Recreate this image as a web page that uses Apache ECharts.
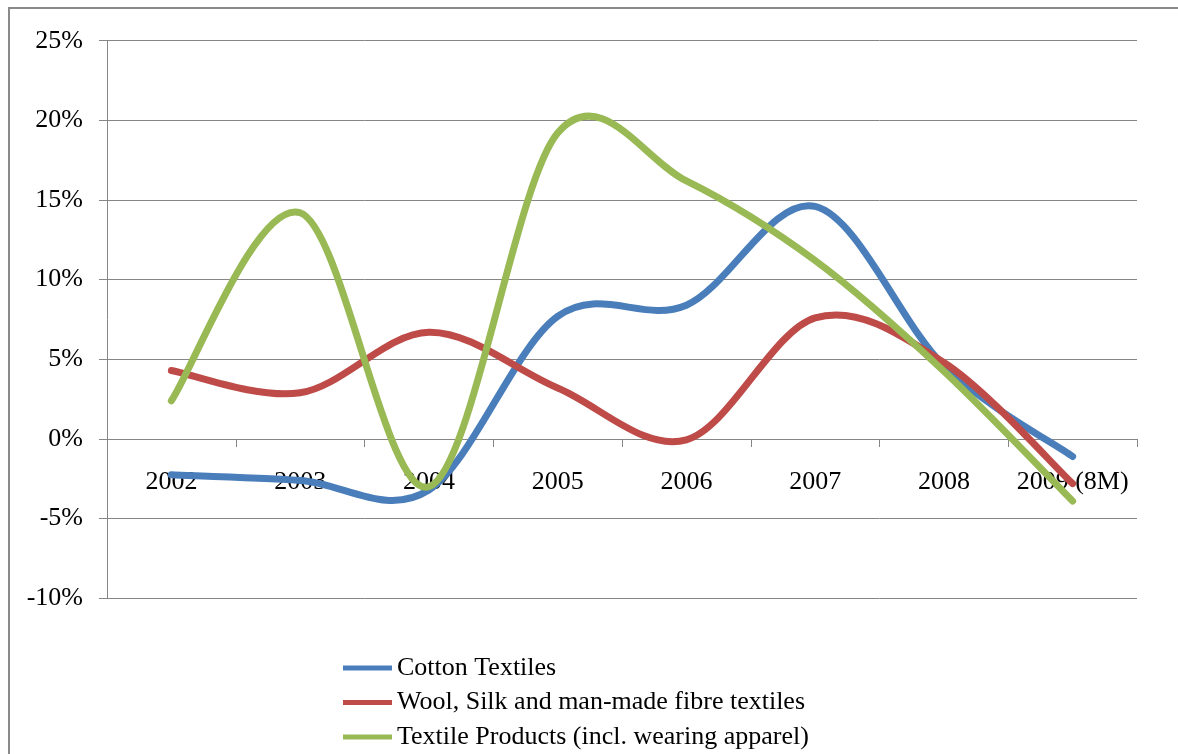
<!DOCTYPE html>
<html>
<head>
<meta charset="utf-8">
<title>Textile export growth</title>
<script src="https://cdn.jsdelivr.net/npm/echarts@6/dist/echarts.min.js"></script>
<style>
  html, body { margin: 0; padding: 0; background: #fff; }
  #chart { width: 1178px; height: 754px; }
</style>
</head>
<body>
<div id="chart"></div>
<script>
// Year categories on the horizontal axis
const years = ['2002', '2003', '2004', '2005', '2006', '2007', '2008', '2009 (8M)'];

// Annual growth rates, in percent
const cottonTextiles = [-2.25, -2.6, -3.2, 7.7, 8.4, 14.6, 4.6, -1.1];
const woolSilkManMade = [4.3, 2.9, 6.7, 3.2, -0.05, 7.6, 4.8, -2.8];
const textileProducts = [2.4, 14.2, -3.0, 19.2, 16.2, 11.2, 4.25, -3.9];

// Value axis ticks
const yTicks = { min: -10, max: 25, step: 5 };

const seriesNames = [
  'Cotton Textiles',
  'Wool, Silk and man-made fibre textiles',
  'Textile Products (incl. wearing apparel)'
];
const seriesColors = ['#4A7EBB', '#BE4B48', '#98B954'];
const seriesValues = [cottonTextiles, woolSilkManMade, textileProducts];

const FONT = '"Liberation Serif", "Times New Roman", serif';

// Plot area edges (px)
const GRID = { left: 107, right: 41, top: 40.7, bottom: 155.7 };

// Smooth curve through every point (Catmull-Rom style cubic Bezier segments)
function smoothPath(pts) {
  let d = 'M' + pts[0][0] + ' ' + pts[0][1];
  const n = pts.length;
  for (let i = 0; i < n - 1; i++) {
    const p0 = pts[Math.max(i - 1, 0)];
    const p1 = pts[i];
    const p2 = pts[i + 1];
    const p3 = pts[Math.min(i + 2, n - 1)];
    const c1x = p1[0] + (p2[0] - p0[0]) / 6;
    const c1y = p1[1] + (p2[1] - p0[1]) / 6;
    const c2x = p2[0] - (p3[0] - p1[0]) / 6;
    const c2y = p2[1] - (p3[1] - p1[1]) / 6;
    d += ' C' + c1x + ' ' + c1y + ' ' + c2x + ' ' + c2y + ' ' + p2[0] + ' ' + p2[1];
  }
  return d;
}

function makeSeries(name, values, color) {
  return {
    name: name,
    type: 'custom',
    coordinateSystem: 'cartesian2d',
    itemStyle: { color: color },
    encode: { x: 0, y: 1 },
    data: values.map((v, i) => [i, v]),
    renderItem: function (params, api) {
      if (params.dataIndex !== 0) return null;
      const pts = values.map((v, i) => api.coord([i, v]));
      return {
        type: 'path',
        shape: { pathData: smoothPath(pts) },
        style: {
          fill: null,
          stroke: color,
          lineWidth: 7,
          lineCap: 'round',
          lineJoin: 'round'
        },
        silent: true
      };
    }
  };
}

const chart = echarts.init(document.getElementById('chart'), null, { renderer: 'canvas' });

// The category axis sits on the 0% line: shift it up from the plot bottom
const plotHeight = 754 - GRID.top - GRID.bottom;
const zeroShift = plotHeight * (0 - yTicks.min) / (yTicks.max - yTicks.min);

chart.setOption({
  animation: false,
  backgroundColor: '#ffffff',
  graphic: [{
    type: 'rect',
    shape: { x: 9, y: 8, width: 1220, height: 800 },
    style: { fill: null, stroke: '#8a8a8a', lineWidth: 2 },
    silent: true,
    z: -1
  }],
  grid: { left: GRID.left, right: GRID.right, top: GRID.top, bottom: GRID.bottom, containLabel: false },
  legend: {
    orient: 'vertical',
    left: 343,
    top: 655,
    padding: 0,
    itemWidth: 49,
    itemHeight: 5,
    itemGap: 8.5,
    icon: 'rect',
    data: seriesNames,
    textStyle: { fontFamily: FONT, fontSize: 26, color: '#000', lineHeight: 26 }
  },
  xAxis: {
    type: 'category',
    data: years,
    boundaryGap: true,
    position: 'bottom',
    offset: -zeroShift,
    axisLine: { onZero: false, lineStyle: { color: '#868686', width: 1 } },
    axisTick: { show: true, length: 8, lineStyle: { color: '#868686' } },
    axisLabel: { margin: 30, fontFamily: FONT, fontSize: 26, color: '#000', interval: 0 },
    splitLine: { show: false }
  },
  yAxis: {
    type: 'value',
    min: yTicks.min,
    max: yTicks.max,
    interval: yTicks.step,
    axisLine: { show: true, lineStyle: { color: '#868686', width: 1 } },
    axisTick: { show: true, length: 8, lineStyle: { color: '#868686' } },
    axisLabel: { margin: 24, formatter: '{value}%', fontFamily: FONT, fontSize: 26, color: '#000' },
    splitLine: { show: true, lineStyle: { color: '#868686', width: 1 } }
  },
  series: seriesNames.map((n, i) => makeSeries(n, seriesValues[i], seriesColors[i]))
});
</script>
</body>
</html>
